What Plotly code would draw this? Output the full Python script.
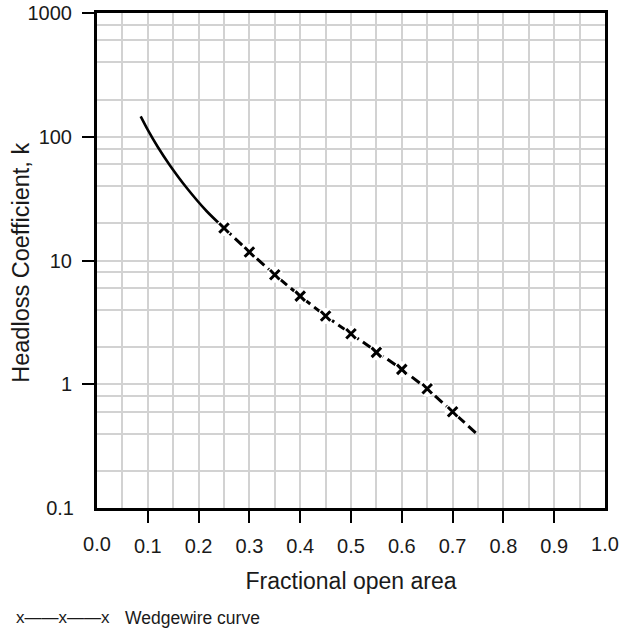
import plotly.graph_objects as go

# solid (upper) part of the curve
open_area_solid = [0.086, 0.100, 0.120, 0.143, 0.176, 0.216, 0.25]
k_solid = [146, 113.5, 82.2, 59.2, 38.9, 25.0, 18.3]

# wedgewire curve (dashed with x markers)
open_area_wedge = [0.25, 0.30, 0.35, 0.40, 0.45, 0.50, 0.55, 0.60, 0.65, 0.70, 0.75]
k_wedge = [18.3, 11.7, 7.67, 5.15, 3.56, 2.56, 1.81, 1.32, 0.92, 0.60, 0.39]
marker_area = open_area_wedge[:-1]
marker_k = k_wedge[:-1]

x_ticks = [0.1, 0.2, 0.3, 0.4, 0.5, 0.6, 0.7, 0.8, 0.9]
x_edge_ticks = [0.0, 1.0]
y_ticks = [1, 10, 100, 1000]
y_minor = [m * 10 ** e for e in range(-1, 3) for m in (2, 4, 6, 8)]

FONT = "Liberation Sans, Arial, sans-serif"
GRID = "#d2d2d2"
TXT = "#1a1a1a"
TICK_SIZE = 20

fig = go.Figure()
fig.add_trace(go.Scatter(
    x=open_area_solid, y=k_solid, mode="lines",
    line=dict(color="black", width=2.6, shape="spline", smoothing=0.8),
    showlegend=False, hoverinfo="skip"
))
fig.add_trace(go.Scatter(
    x=open_area_wedge, y=k_wedge, mode="lines",
    line=dict(color="black", width=3, dash="10px,5px"),
    showlegend=False, hoverinfo="skip"
))
fig.add_trace(go.Scatter(
    x=marker_area, y=marker_k, mode="markers",
    marker=dict(symbol="circle", size=16, color="white", line=dict(width=0)),
    showlegend=False, hoverinfo="skip"
))
fig.add_trace(go.Scatter(
    x=marker_area, y=marker_k, mode="markers",
    marker=dict(symbol="x-thin", size=9.5, color="black", line=dict(width=3, color="black")),
    showlegend=False, name="Wedgewire curve"
))
# invisible trace so the overlay axes (edge labels) get drawn
fig.add_trace(go.Scatter(
    x=marker_area, y=marker_k, mode="markers", xaxis="x2", yaxis="y2",
    marker=dict(opacity=0), showlegend=False, hoverinfo="skip"
))

fig.update_layout(
    width=622, height=632,
    margin=dict(l=97, r=17, t=13, b=124),
    paper_bgcolor="white", plot_bgcolor="white",
    font=dict(family=FONT, color=TXT),
    xaxis=dict(
        range=[0, 1], tickvals=x_ticks, ticktext=["%.1f" % v for v in x_ticks],
        ticks="outside", ticklen=12, tickwidth=2, tickcolor="black",
        tickfont=dict(size=TICK_SIZE), ticklabelstandoff=6, automargin=False,
        showgrid=True, gridcolor=GRID, gridwidth=1.6,
        minor=dict(dtick=0.05, showgrid=True, gridcolor=GRID, gridwidth=1.6, ticks=""),
        showline=True, linecolor="black", linewidth=3, mirror=True, zeroline=False,
        title=dict(text="Fractional open area", font=dict(size=23), standoff=17),
    ),
    yaxis=dict(
        type="log", range=[-1, 3], tickvals=y_ticks, ticktext=[str(v) for v in y_ticks],
        ticks="outside", ticklen=12, tickwidth=2, tickcolor="black",
        tickfont=dict(size=TICK_SIZE), ticklabelstandoff=6, automargin=False,
        showgrid=True, gridcolor=GRID, gridwidth=1.6,
        minor=dict(tickvals=y_minor, showgrid=True, gridcolor=GRID, gridwidth=1.6, ticks=""),
        showline=True, linecolor="black", linewidth=3, mirror=True, zeroline=False,
    ),
    xaxis2=dict(
        overlaying="x", anchor="y", side="bottom", range=[0, 1],
        tickvals=x_edge_ticks, ticktext=["%.1f" % v for v in x_edge_ticks],
        ticks="outside", ticklen=12, tickcolor="rgba(0,0,0,0)",
        tickfont=dict(size=TICK_SIZE), ticklabelstandoff=6, automargin=False,
        showgrid=False, showline=False, zeroline=False,
    ),
    yaxis2=dict(
        overlaying="y", anchor="x", side="left", type="log", range=[-1, 3],
        tickvals=[0.1], ticktext=["0.1"],
        ticks="outside", ticklen=12, tickcolor="rgba(0,0,0,0)",
        tickfont=dict(size=TICK_SIZE), ticklabelstandoff=6, automargin=False,
        showgrid=False, showline=False, zeroline=False,
    ),
)

# y-axis title placed as a rotated annotation for exact positioning
fig.add_annotation(
    x=-0.150, y=0.495, xref="paper", yref="paper", xanchor="center", yanchor="middle",
    text="Headloss Coefficient, k", textangle=-90, showarrow=False,
    font=dict(size=23.5, color=TXT)
)
fig.add_annotation(
    x=-0.163, y=-0.222, xref="paper", yref="paper", xanchor="left", yanchor="middle",
    text="x\u2014\u2014x\u2014\u2014x", showarrow=False, font=dict(size=17, color=TXT)
)
fig.add_annotation(
    x=0.051, y=-0.222, xref="paper", yref="paper", xanchor="left", yanchor="middle",
    text="Wedgewire curve", showarrow=False, font=dict(size=17.5, color=TXT)
)

# drop the browser's default body margin so the figure sits at the page origin
fig.write_html("out.html", config={"displayModeBar": False},
               post_script="document.body.style.margin='0';")
